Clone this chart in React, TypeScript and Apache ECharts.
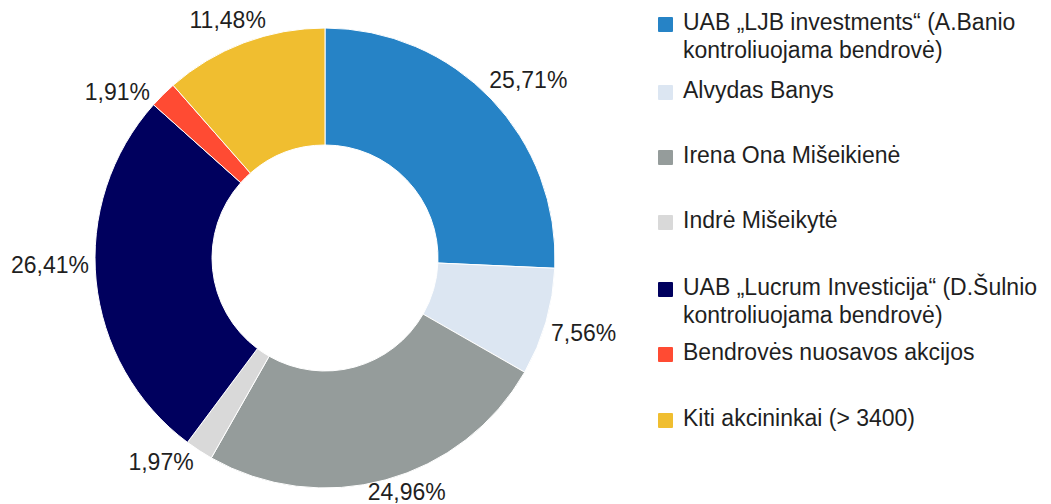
import React, { useEffect, useRef } from "react";
import * as echarts from "echarts";

const categories = [
  "UAB „LJB investments“ (A.Banio\nkontroliuojama bendrovė)",
  "Alvydas Banys",
  "Irena Ona Mišeikienė",
  "Indrė Mišeikytė",
  "UAB „Lucrum Investicija“ (D.Šulnio\nkontroliuojama bendrovė)",
  "Bendrovės nuosavos akcijos",
  "Kiti akcininkai (> 3400)",
];
const shares = [25.71, 7.56, 24.96, 1.97, 26.41, 1.91, 11.48];
const colors = ["#2683C6", "#DCE6F2", "#959C9B", "#D9D9D9", "#00005E", "#FF4B33", "#F0BE30"];

// layout: first-line vertical centres of legend entries
const legendY = [22, 90, 155, 220, 287, 352, 418];
// layout: small angular nudges (degrees, clockwise) of the outside labels
const labelNudgeDeg = [2.6, 0, -3.4, 5.6, 4.2, -6.6, -1.6];

const W = 1051;
const H = 504;
const CX = 325;
const CY = 258;
const OUTER = 230;
const INNER = 113;
const FONT = "'Liberation Sans', Arial, sans-serif";
const FS = 23;
const TXT = "#1f1f1f";

export default function App() {
  const ref = useRef<HTMLDivElement>(null);
  useEffect(() => {
    if (!ref.current) return;
    const chart = echarts.init(ref.current, undefined, { renderer: "svg" });
    const graphic: any[] = [];
    categories.forEach((name, i) => {
      graphic.push({
        type: "rect",
        shape: { x: 658, y: legendY[i] - 5, width: 15, height: 15, r: 1 },
        style: { fill: colors[i] },
        silent: true,
      });
      graphic.push({
        type: "text",
        x: 683,
        y: legendY[i] - 14,
        style: {
          text: name,
          fontFamily: FONT,
          fontSize: FS,
          lineHeight: 28,
          fill: TXT,
          verticalAlign: "top",
          align: "left",
        },
        silent: true,
      });
    });
    chart.setOption({
      animation: false,
      backgroundColor: "#ffffff",
      graphic,
      series: [
        {
          type: "pie",
          center: [CX, CY],
          radius: [INNER, OUTER],
          startAngle: 90,
          clockwise: true,
          avoidLabelOverlap: false,
          silent: true,
          itemStyle: { borderColor: "#ffffff", borderWidth: 1 },
          label: {
            show: true,
            position: "outside",
            fontFamily: FONT,
            fontSize: FS,
            color: TXT,
            distanceToLabelLine: 0,
            formatter: (p: any) => p.value.toFixed(2).replace(".", ",") + "%",
          },
          labelLine: { show: false, length: 10, length2: 0 },
          labelLayout: (p: any) => {
            const r = p.labelRect;
            const isRight = r.x + r.width / 2 > CX;
            const ax = isRight ? r.x : r.x + r.width;
            const ay = r.y + r.height / 2;
            // clockwise angle from top
            let ang = Math.atan2(ax - CX, -(ay - CY));
            ang += ((labelNudgeDeg[p.dataIndex] || 0) * Math.PI) / 180;
            const dx = Math.sin(ang);
            const dy = -Math.cos(ang);
            const half = Math.abs(dx) * (r.width / 2) + Math.abs(dy) * r.height * 0.3;
            const R = OUTER + 6 + half;
            const x = CX + R * dx;
            let y = CY + R * dy;
            y = Math.min(H - r.height / 2 - 1, Math.max(r.height / 2 + 1, y));
            return { x, y, align: "center", verticalAlign: "middle" };
          },
          data: categories.map((n, i) => ({
            name: n,
            value: shares[i],
            itemStyle: { color: colors[i] },
          })),
        },
      ],
    });
    return () => chart.dispose();
  }, []);
  return (
    <div
      ref={ref}
      style={{ position: "fixed", left: 0, top: 0, width: W, height: H, background: "#fff" }}
    />
  );
}
